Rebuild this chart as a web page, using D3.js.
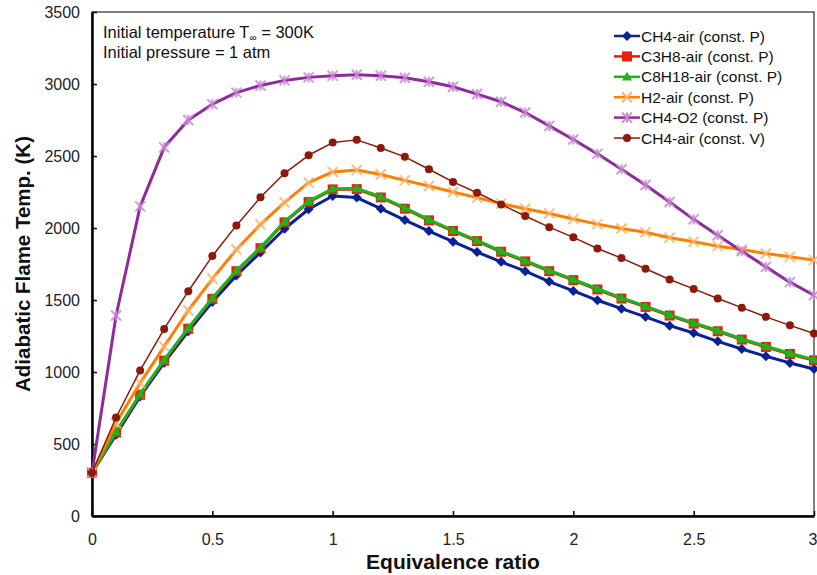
<!DOCTYPE html>
<html>
<head>
<meta charset="utf-8">
<script src="https://cdn.jsdelivr.net/npm/d3@7"></script>
<style>
  body { margin: 0; background: #fff; }
  svg { display: block; font-family: Arial, "Liberation Sans", sans-serif; }
</style>
</head>
<body>
<figure style="margin:0"></figure>
<script>
// equivalence ratio (x values)
const phi = [0, 0.1, 0.2, 0.3, 0.4, 0.5, 0.6, 0.7, 0.8, 0.9, 1.0,
  1.1, 1.2, 1.3, 1.4, 1.5, 1.6, 1.7, 1.8, 1.9, 2.0,
  2.1, 2.2, 2.3, 2.4, 2.5, 2.6, 2.7, 2.8, 2.9, 3.0];

// adiabatic flame temperature (K)
const ch4Air = [300, 565, 830, 1065, 1283, 1486, 1670, 1830, 1995, 2130, 2222,
  2211, 2134, 2055, 1979, 1905, 1833, 1765, 1700, 1628, 1563,
  1498, 1440, 1383, 1322, 1271, 1213, 1160, 1109, 1063, 1021];
const c3h8Air = [300, 580, 842, 1079, 1301, 1508, 1700, 1860, 2039, 2180, 2268,
  2270, 2212, 2134, 2053, 1979, 1909, 1835, 1768, 1700, 1638,
  1573, 1510, 1452, 1392, 1336, 1283, 1225, 1174, 1125, 1081];
const c8h18Air = [300, 585, 847, 1084, 1306, 1513, 1705, 1865, 2044, 2185, 2273,
  2275, 2217, 2139, 2058, 1984, 1914, 1840, 1773, 1705, 1643,
  1578, 1515, 1457, 1397, 1341, 1288, 1230, 1179, 1130, 1086];
const h2Air = [300, 645, 923, 1178, 1427, 1647, 1851, 2025, 2178, 2315, 2389,
  2403, 2371, 2331, 2292, 2250, 2211, 2169, 2134, 2101, 2063,
  2027, 1997, 1971, 1932, 1904, 1874, 1851, 1823, 1800, 1777];
const ch4O2 = [300, 1392, 2150, 2560, 2750, 2860, 2940, 2990, 3025, 3046, 3057,
  3064, 3057, 3043, 3016, 2981, 2930, 2877, 2802, 2709, 2615,
  2515, 2408, 2299, 2180, 2060, 1950, 1839, 1730, 1624, 1533];
const ch4AirV = [300, 684, 1011, 1299, 1561, 1805, 2018, 2213, 2380, 2505, 2593,
  2612, 2556, 2494, 2408, 2320, 2245, 2164, 2083, 2006, 1935,
  1858, 1791, 1717, 1642, 1577, 1510, 1447, 1383, 1324, 1267];

const seriesNames = ['CH4-air (const. P)', 'C3H8-air (const. P)', 'C8H18-air (const. P)',
  'H2-air (const. P)', 'CH4-O2 (const. P)', 'CH4-air (const. V)'];
const seriesValues = [ch4Air, c3h8Air, c8h18Air, h2Air, ch4O2, ch4AirV];

const xTicks = [0, 0.5, 1, 1.5, 2, 2.5, 3];
const yTicks = [0, 500, 1000, 1500, 2000, 2500, 3000, 3500];

(() => {
  const totalWidth = 817;
  const totalHeight = 575;
  const margin = {top: 12, right: 3, bottom: 59, left: 92};
  const graphWidth = totalWidth - margin.left - margin.right;
  const graphHeight = totalHeight - margin.top - margin.bottom;

  const styles = [
    {line: '#0a2096', width: 3, marker: 'diamond', fill: '#0a2096', stroke: 'none', size: 5},
    {line: '#e21a0a', width: 3, marker: 'square', fill: '#e8200c', stroke: 'none', size: 5},
    {line: '#1db41d', width: 3, marker: 'triangle', fill: '#1db41d', stroke: 'none', size: 5},
    {line: '#ff7f00', width: 3, marker: 'times', fill: 'none', stroke: '#ffb36e', size: 5},
    {line: '#8e2a9e', width: 3, marker: 'asterisk', fill: 'none', stroke: '#c98ad2', size: 5},
    {line: '#8b1a0a', width: 1.5, marker: 'circle', fill: '#8b1a0a', stroke: 'none', size: 4}
  ];

  const svg = d3.select('figure').append('svg')
    .attr('width', totalWidth)
    .attr('height', totalHeight);

  const g = svg.append('g')
    .attr('transform', `translate(${margin.left}, ${margin.top})`);

  const x = d3.scaleLinear().domain([0, 3]).range([0, graphWidth]);
  const y = d3.scaleLinear().domain([0, 3500]).range([graphHeight, 0]);

  // thin frame top/right
  g.append('rect')
    .attr('width', graphWidth)
    .attr('height', graphHeight)
    .attr('fill', 'none')
    .attr('stroke', '#000')
    .attr('stroke-width', 1);

  const xAxis = d3.axisBottom(x).tickValues(xTicks).tickSizeInner(-5).tickSizeOuter(0)
    .tickFormat(d3.format('~g')).tickPadding(18);
  const yAxis = d3.axisLeft(y).tickValues(yTicks).tickSizeInner(-5).tickSizeOuter(0)
    .tickFormat(d3.format('d')).tickPadding(12);

  const xGroup = g.append('g')
    .attr('transform', `translate(0, ${graphHeight})`)
    .call(xAxis);
  const yGroup = g.append('g').call(yAxis);

  [xGroup, yGroup].forEach((ax) => {
    ax.select('.domain').attr('stroke-width', 2.5);
    ax.selectAll('.tick line').attr('stroke-width', 1.5);
    ax.selectAll('.tick text')
      .attr('font-size', 16)
      .attr('font-family', 'Arial, "Liberation Sans", sans-serif')
      .attr('fill', '#222');
  });
  // last x label sits at the right edge, keep it inside the page
  xGroup.selectAll('.tick text')
    .filter((d) => d === 3)
    .attr('text-anchor', 'end')
    .attr('dx', 3);

  // marker path builder
  function markerPath(type, r) {
    if (type === 'diamond') return `M0,${-r}L${r},0L0,${r}L${-r},0Z`;
    if (type === 'square') return `M${-r},${-r}H${r}V${r}H${-r}Z`;
    if (type === 'triangle') return `M0,${-r}L${r},${r * 0.75}L${-r},${r * 0.75}Z`;
    if (type === 'times') return `M${-r},${-r}L${r},${r}M${-r},${r}L${r},${-r}`;
    if (type === 'asterisk') return `M${-r},${-r}L${r},${r}M${-r},${r}L${r},${-r}M0,${-r}V${r}`;
    return d3.arc()({innerRadius: 0, outerRadius: r, startAngle: 0, endAngle: 2 * Math.PI});
  }

  const line = d3.line()
    .x((d) => x(d[0]))
    .y((d) => y(d[1]));

  seriesValues.forEach((vals, i) => {
    const st = styles[i];
    const pts = phi.map((p, j) => [p, vals[j]]);
    const sg = g.append('g');
    sg.append('path')
      .datum(pts)
      .attr('fill', 'none')
      .attr('stroke', st.line)
      .attr('stroke-width', st.width)
      .attr('stroke-linejoin', 'round')
      .attr('d', line);
    sg.selectAll('path.mk')
      .data(pts)
      .join('path')
      .attr('class', 'mk')
      .attr('transform', (d) => `translate(${x(d[0])}, ${y(d[1])})`)
      .attr('d', markerPath(st.marker, st.size))
      .attr('fill', st.fill)
      .attr('stroke', st.stroke)
      .attr('stroke-width', st.stroke === 'none' ? 0 : 2)
      .attr('opacity', st.stroke === 'none' ? 1 : 0.85);
  });

  // annotation
  const note = g.append('text')
    .attr('x', 11)
    .attr('y', 26)
    .attr('font-size', 16.5)
    .attr('fill', '#111');
  note.append('tspan').text('Initial temperature T');
  note.append('tspan').attr('font-size', 10).attr('dy', 3).text('\u221e');
  note.append('tspan').attr('dy', -3).text(' = 300K');
  g.append('text')
    .attr('x', 11)
    .attr('y', 46)
    .attr('font-size', 16.5)
    .attr('fill', '#111')
    .text('Initial pressure = 1 atm');

  // legend
  const legend = g.append('g')
    .attr('transform', `translate(${614 - margin.left}, ${36 - margin.top})`);
  seriesNames.forEach((name, i) => {
    const st = styles[i];
    const row = legend.append('g').attr('transform', `translate(0, ${i * 20.4})`);
    row.append('line')
      .attr('x1', 0).attr('x2', 26)
      .attr('stroke', st.line)
      .attr('stroke-width', Math.min(st.width, 2.5));
    row.append('path')
      .attr('transform', 'translate(13, 0)')
      .attr('d', markerPath(st.marker, st.size))
      .attr('fill', st.fill)
      .attr('stroke', st.stroke)
      .attr('stroke-width', st.stroke === 'none' ? 0 : 2);
    row.append('text')
      .attr('x', 27)
      .attr('dy', '0.36em')
      .attr('font-size', 15.5)
      .attr('fill', '#111')
      .text(name);
  });

  // axis titles
  svg.append('text')
    .attr('x', margin.left + x(1.5))
    .attr('y', 569)
    .attr('text-anchor', 'middle')
    .attr('font-size', 21)
    .attr('font-weight', 'bold')
    .attr('fill', '#111')
    .text('Equivalence ratio');

  svg.append('text')
    .attr('transform', `translate(30, ${margin.top + graphHeight / 2}) rotate(-90)`)
    .attr('text-anchor', 'middle')
    .attr('font-size', 20.5)
    .attr('font-weight', 'bold')
    .attr('fill', '#111')
    .text('Adiabatic Flame Temp. (K)');
})();
</script>
</body>
</html>
